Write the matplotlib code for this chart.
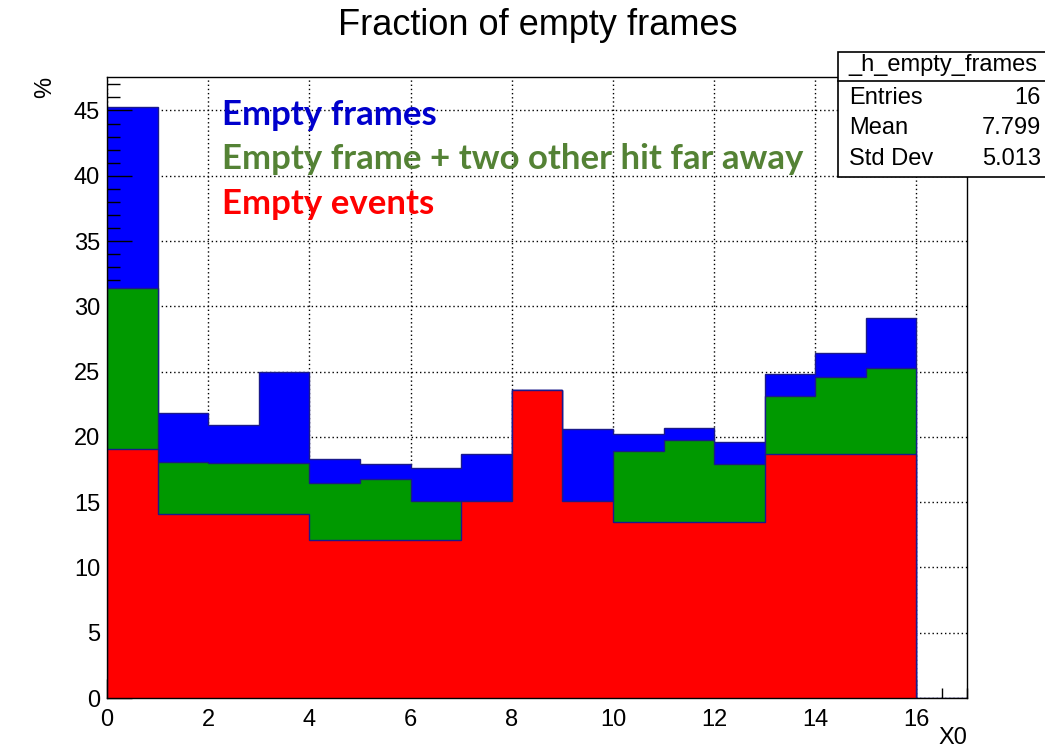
import matplotlib.pyplot as plt
import matplotlib.patches as mpatches
import numpy as np

# bin edges 0..17, one unit wide
edges = np.arange(0, 18)

# percentages
empty_frames = [45.3, 21.8, 20.9, 25.0, 18.3, 17.9, 17.6, 18.7, 23.6, 20.6,
                20.2, 20.7, 19.6, 24.8, 26.4, 29.1, 0.0]
empty_frame_far = [31.4, 18.1, 18.0, 18.0, 16.5, 16.8, 15.1, 15.1, 23.6, 15.1,
                   18.9, 19.8, 17.9, 23.1, 24.6, 25.3]
empty_events = [19.1, 14.1, 14.1, 14.1, 12.1, 12.1, 12.1, 15.1, 23.6, 15.1,
                13.5, 13.5, 13.5, 18.7, 18.7, 18.7]

labels = ['Empty frames', 'Empty frame + two other hit far away', 'Empty events']
text_colors = ['#0000cc', '#548235', '#ff0000']
fill_colors = ['#0000ff', '#009900', '#ff0000']

stats_rows = [('Entries', '16'), ('Mean', '7.799'), ('Std Dev', '5.013')]

plt.rcParams['font.family'] = ['Liberation Sans', 'DejaVu Sans']

fig = plt.figure(figsize=(10.45, 7.52), dpi=100)
ax = fig.add_axes([0.1024, 0.0718, 0.8230, 0.8258])

ymax = max(empty_frames) * 1.05
ax.set_xlim(0, 17)
ax.set_ylim(0, ymax)
ax.set_xticks(np.arange(0, 17, 2))
ax.set_xticks(np.arange(0, 17.01, 0.5), minor=True)
ax.set_yticks(np.arange(0, 46, 5))
ax.set_yticks(np.arange(0, ymax, 1), minor=True)

# dotted grid under everything
for xv in ax.get_xticks():
    ax.axvline(xv, color='black', ls=(0, (1, 2)), lw=1, zorder=0.1)
for yv in ax.get_yticks():
    ax.axhline(yv, color='black', ls=(0, (1, 2)), lw=1, zorder=0.1)

# ROOT draws the first histogram with the axis, the others "same" over it
ax.set_axisbelow(True)
edge = '#1a1a8c'
ax.stairs(empty_frames, edges, fill=True, facecolor=fill_colors[0],
          edgecolor=edge, lw=1, zorder=0.3)
ax.stairs(empty_frame_far, edges[:-1], fill=True, facecolor=fill_colors[1],
          edgecolor=edge, lw=1, zorder=1)
ax.stairs(empty_events, edges[:-1], fill=True, facecolor=fill_colors[2],
          edgecolor=edge, lw=1, zorder=1.1)

ax.tick_params(which='both', direction='in', top=False, right=False,
               labelsize=17, colors='black')
ax.tick_params(axis='y', which='major', length=18, width=1, pad=5)
ax.tick_params(axis='y', which='minor', length=9, width=1)
ax.tick_params(axis='x', which='major', length=14, width=1, pad=8)
ax.tick_params(axis='x', which='minor', length=7, width=1)
for sp in ax.spines.values():
    sp.set_linewidth(1)
    sp.set_zorder(3)

ax.set_ylabel('%', loc='top', fontsize=17, labelpad=13)
ax.set_xlabel('X0', loc='right', fontsize=17, labelpad=-3)

fig.text(0.515, 0.966, 'Fraction of empty frames', ha='center', va='center',
         fontsize=26)

# coloured captions
for i, (lab, col) in enumerate(zip(labels, text_colors)):
    ax.text(2.27, 44.65 - 3.4 * i, lab, color=col, fontsize=25,
            fontweight='bold', family=['Lato', 'DejaVu Sans'],
            ha='left', va='center', zorder=5)

# stats box
x0, y0, w, h = 838 / 1045, 1 - 177 / 752, 210 / 1045, 125 / 752
fig.patches.append(mpatches.Rectangle((x0, y0), w, h, transform=fig.transFigure,
                                      facecolor='white', edgecolor='black',
                                      lw=1.2, zorder=10))
fig.add_artist(plt.Line2D([x0, x0 + w], [1 - 81 / 752] * 2, color='black',
                          lw=1.2, zorder=11))
fig.text(943 / 1045, 1 - 65 / 752, '_h_empty_frames', ha='center', va='center',
         fontsize=17, zorder=12)
for i, (k, v) in enumerate(stats_rows):
    yy = 1 - (98 + 30.5 * i) / 752
    fig.text(849 / 1045, yy, k, ha='left', va='center', fontsize=17, zorder=12)
    fig.text(1041 / 1045, yy, v, ha='right', va='center', fontsize=17,
             zorder=12)

fig.savefig('out.png', dpi=100)
